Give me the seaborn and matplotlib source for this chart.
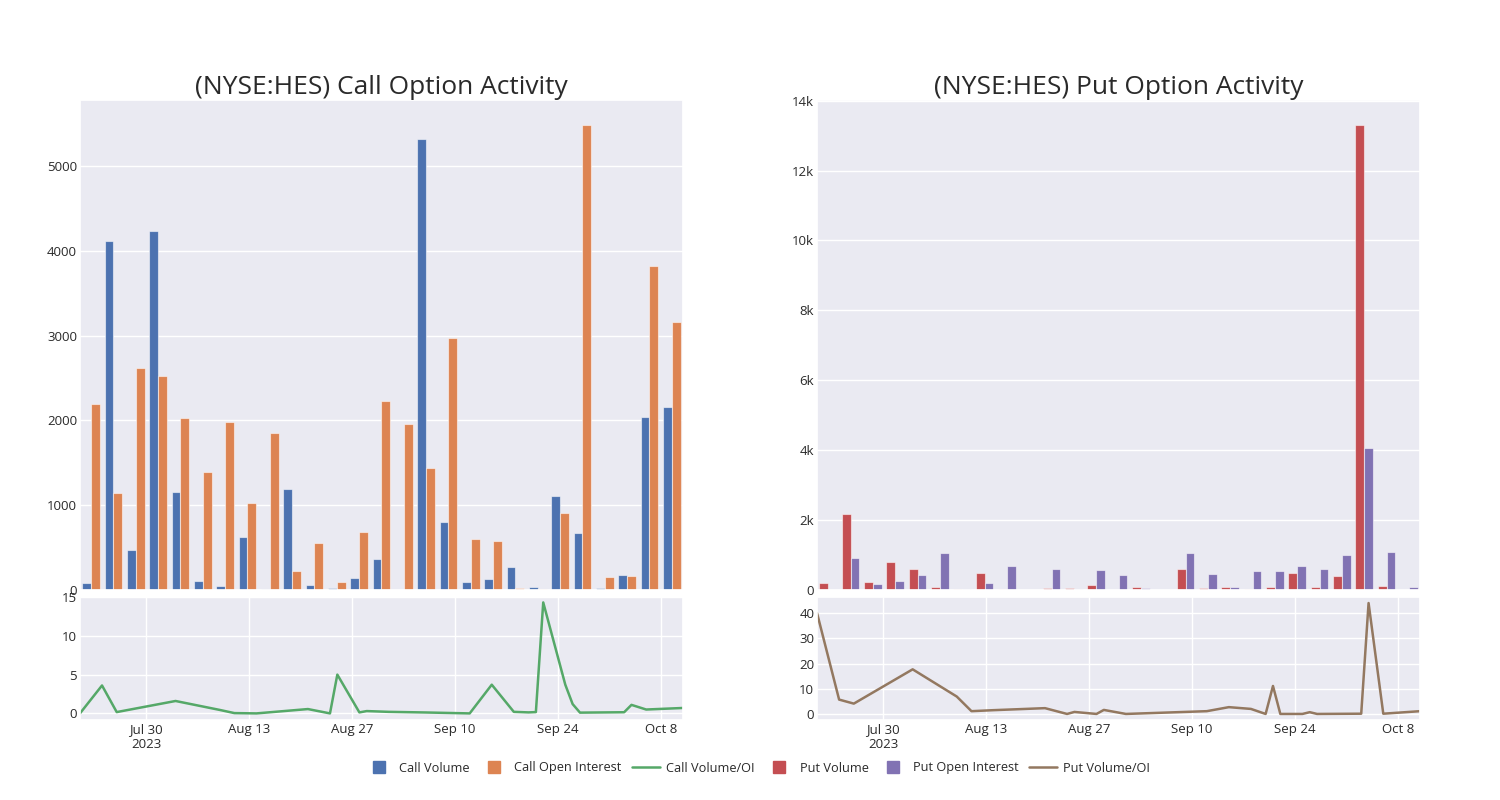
import pandas as pd
import matplotlib.pyplot as plt
import seaborn as sns
from matplotlib.lines import Line2D
from matplotlib.ticker import FuncFormatter

# Data
dates = ['2023-07-21', '2023-07-24', '2023-07-26', '2023-08-03', '2023-08-09', '2023-08-11',
         '2023-08-14', '2023-08-21', '2023-08-24', '2023-08-25', '2023-08-28', '2023-08-29',
         '2023-09-01', '2023-09-06', '2023-09-12', '2023-09-15', '2023-09-18', '2023-09-20',
         '2023-09-21', '2023-09-22', '2023-09-25', '2023-09-26', '2023-09-27', '2023-10-03',
         '2023-10-04', '2023-10-06', '2023-10-11']

call_volume = [86, 4120, 470, 4230, 1160, 102, 47, 629, 16, 1195, 55, 24, 138, 365,
               5, 5318, 798, 90, 130, 271, 31, 1105, 668, 20, 177, 2044, 2154]
call_oi = [2190, 1140, 2618, 2527, 2024, 1395, 1985, 1026, 1848, 228, 550, 94, 688, 2225,
           1958, 1435, 2972, 605, 578, 19, 8, 908, 5491, 157, 161, 3821, 3157]
call_ratio = [0.0, 3.6, 0.17, 1.6, 0.45, 0.04, 0.0, 0.56, 0.0, 5.0, 0.13, 0.3, 0.2, 0.12,
              0.0, 3.7, 0.2, 0.13, 0.17, 14.3, 3.7, 1.2, 0.1, 0.15, 1.1, 0.5, 0.7]

put_volume = [190, 2171, 219, 800, 600, 95, 38, 486, 19, 10, 48, 48, 133, 0,
              95, 10, 590, 48, 95, 29, 86, 495, 86, 390, 13314, 114, 10]
put_oi = [0, 914, 171, 248, 429, 1067, 19, 210, 695, 10, 610, 19, 581, 438,
          67, 5, 1067, 448, 76, 552, 543, 695, 610, 1010, 4067, 1076, 95]
put_ratio = [40.0, 5.7, 4.1, 17.7, 6.9, 1.1, 1.5, 2.3, 0.0, 0.8, 0.0, 1.6, 0.0, 0.5,
             1.1, 2.7, 2.0, 0.0, 11.1, 0.0, 0.0, 0.7, 0.0, 0.1, 44.0, 0.1, 1.1]

tick_dates = ['2023-07-30', '2023-08-13', '2023-08-27', '2023-09-10', '2023-09-24', '2023-10-08']
tick_labels = ['Jul 30\n2023', 'Aug 13', 'Aug 27', 'Sep 10', 'Sep 24', 'Oct 8']

deep = sns.color_palette('deep')
call_colors = [deep[0], deep[1], deep[2]]
put_colors = [deep[3], deep[4], deep[5]]

sns.set_theme(style='darkgrid')
plt.rcParams['font.family'] = ['Open Sans', 'DejaVu Sans']
text_color = '#2a2a2a'

fig = plt.figure(figsize=(15, 8), dpi=100)


def draw_column(x0, vol, oi, ratio, names, colors, title, bar_ylim, bar_ticks, bar_fmt,
                line_ylim, line_ticks):
    ax_bar = fig.add_axes([x0, 0.2625, 0.402, 0.6125])
    ax_line = fig.add_axes([x0, 0.1, 0.402, 0.15375])

    n = len(dates)
    bars = pd.DataFrame({
        'date': dates * 2,
        'value': vol + oi,
        'series': [names[0]] * n + [names[1]] * n,
    })
    sns.barplot(data=bars, x='date', y='value', hue='series', palette=colors[:2],
                saturation=1, width=0.8, edgecolor=(1, 1, 1, 0.55), linewidth=0.8,
                ax=ax_bar, legend=False)
    ax_bar.set_xlim(-0.5, n - 0.5)
    ax_bar.set_xticks(range(0, n, 5))
    ax_bar.set_xticklabels([])
    ax_bar.set_ylim(*bar_ylim)
    ax_bar.set_yticks(bar_ticks)
    ax_bar.yaxis.set_major_formatter(FuncFormatter(bar_fmt))
    ax_bar.set_xlabel('')
    ax_bar.set_ylabel('')
    ax_bar.tick_params(axis='both', length=0, pad=2, labelsize=9.5, labelcolor=text_color)
    ax_bar.set_title(title, fontsize=19, color=text_color, pad=3)

    line_df = pd.DataFrame({'date': pd.to_datetime(dates), 'ratio': ratio})
    sns.lineplot(data=line_df, x='date', y='ratio', color=colors[2], linewidth=1.8, ax=ax_line)
    ax_line.set_xlim(pd.Timestamp(dates[0]), pd.Timestamp(dates[-1]))
    ax_line.set_xticks(pd.to_datetime(tick_dates))
    ax_line.set_xticklabels(tick_labels)
    ax_line.set_ylim(*line_ylim)
    ax_line.set_yticks(line_ticks)
    ax_line.set_xlabel('')
    ax_line.set_ylabel('')
    ax_line.tick_params(axis='both', length=0, pad=2, labelsize=9.5, labelcolor=text_color)


draw_column(0.0533, call_volume, call_oi, call_ratio,
            ['Call Volume', 'Call Open Interest'], call_colors,
            '(NYSE:HES) Call Option Activity',
            (0, 5780), range(0, 6000, 1000), lambda v, p: f'{int(v)}',
            (-0.85, 15.0), [0, 5, 10, 15])

draw_column(0.5447, put_volume, put_oi, put_ratio,
            ['Put Volume', 'Put Open Interest'], put_colors,
            '(NYSE:HES) Put Option Activity',
            (0, 14020), range(0, 16000, 2000),
            lambda v, p: '0' if v == 0 else f'{int(v / 1000)}k',
            (-2.4, 46.4), [0, 10, 20, 30, 40])

handles = [
    Line2D([], [], marker='s', linestyle='none', markersize=8, color=call_colors[0]),
    Line2D([], [], marker='s', linestyle='none', markersize=8, color=call_colors[1]),
    Line2D([], [], color=call_colors[2], linewidth=1.8),
    Line2D([], [], marker='s', linestyle='none', markersize=8, color=put_colors[0]),
    Line2D([], [], marker='s', linestyle='none', markersize=8, color=put_colors[1]),
    Line2D([], [], color=put_colors[2], linewidth=1.8),
]
labels = ['Call Volume', 'Call Open Interest', 'Call Volume/OI',
          'Put Volume', 'Put Open Interest', 'Put Volume/OI']
fig.legend(handles, labels, loc='center', bbox_to_anchor=(0.505, 0.04), ncol=6,
           frameon=False, fontsize=9.2, labelcolor=text_color, handlelength=2.2,
           columnspacing=0.8, handletextpad=0.5)

fig.savefig('out.png', dpi=100)
